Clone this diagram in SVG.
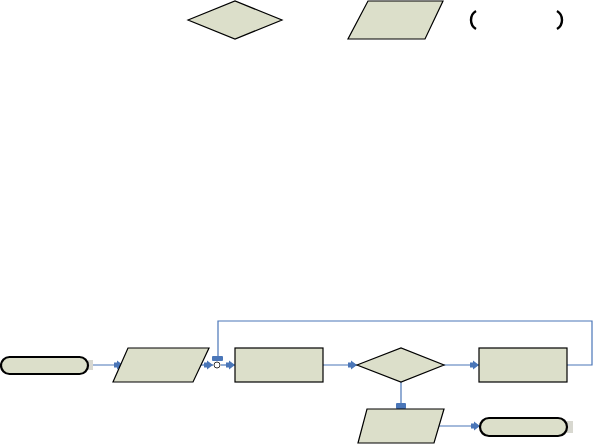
<svg xmlns="http://www.w3.org/2000/svg" width="593" height="445" viewBox="0 0 593 445">
<style>
.shape{fill:#dcdfca;stroke:#000;stroke-width:1.2}
.term{fill:#dcdfca;stroke:#000;stroke-width:2.2}
.conn{fill:none;stroke:#4a76b8;stroke-width:1.2}
.br{fill:none;stroke:#000;stroke-width:2.4}
.tab{fill:#4a76b8}
.gs{fill:#d8d8d0}
</style>
<defs>
<marker id="arr" markerWidth="10" markerHeight="10" refX="9" refY="5" orient="auto" markerUnits="userSpaceOnUse">
<path d="M0,2.5 L3,2.5 L3,0.5 L9,5 L3,9.5 L3,7.5 L0,7.5 Z" fill="#4a76b8"/>
</marker>
</defs>
<rect width="593" height="445" fill="#fff"/>
<g id="legend-decision"><polygon class="shape" points="188,20 235,1 282,20 235,39"/></g>
<g id="legend-data"><polygon class="shape" points="368,1 443,1 425,39 348,39"/></g>
<g id="legend-bracket">
<path class="br" d="M476,11 Q471,14 471,20 Q471,26 476,29"/>
<path class="br" d="M557,11 Q562,14 562,20 Q562,26 557,29"/>
</g>
<g id="connectors">
<path class="conn" d="M88,365 H123" marker-end="url(#arr)"/>
<path class="conn" d="M201,365 H213" marker-end="url(#arr)"/>
<path class="conn" d="M221,365 H235" marker-end="url(#arr)"/>
<path class="conn" d="M567,365 H592 V321 H218 V361"/>
<path class="conn" d="M323,365 H357" marker-end="url(#arr)"/>
<path class="conn" d="M444,365 H479" marker-end="url(#arr)"/>
<path class="conn" d="M401,382 V409"/>
<path class="conn" d="M439,426 H480" marker-end="url(#arr)"/>
<rect class="tab" x="212" y="356" width="11" height="5" rx="1"/>
<rect class="tab" x="396" y="403" width="10" height="6" rx="1"/>
<circle cx="217" cy="365" r="3" fill="#fff" stroke="#333" stroke-width="1"/>
</g>
<g id="start">
<rect class="gs" x="88" y="360" width="5" height="10"/>
<rect class="term" x="1" y="357" width="87" height="17" rx="8.5"/>
</g>
<g id="input"><polygon class="shape" points="128,348 209,348 193,382 113,382"/></g>
<g id="process1"><rect class="shape" x="235" y="348" width="88" height="34"/></g>
<g id="decision"><polygon class="shape" points="357,365 401,348 444,365 401,382"/></g>
<g id="process2"><rect class="shape" x="479" y="348" width="88" height="34"/></g>
<g id="output"><polygon class="shape" points="367,409 444,409 434,443 358,443"/></g>
<g id="end">
<rect class="gs" x="565" y="421" width="8" height="12"/>
<rect class="term" x="480" y="418" width="87" height="18" rx="9"/>
</g>
</svg>
